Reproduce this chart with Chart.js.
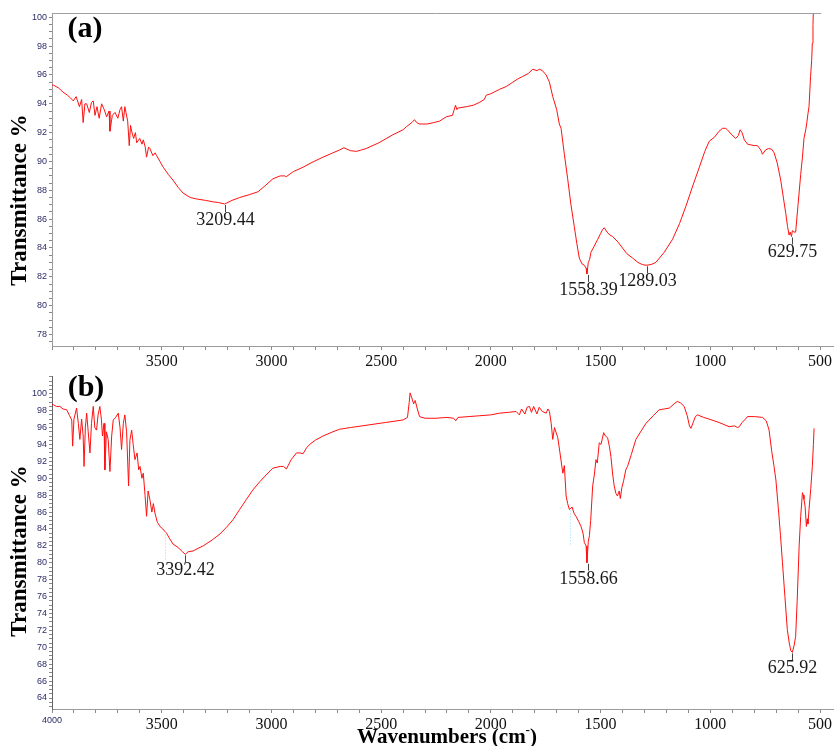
<!DOCTYPE html>
<html>
<head>
<meta charset="utf-8">
<script src="https://cdn.jsdelivr.net/npm/chart.js@4.4.0/dist/chart.umd.min.js"></script>
<style>
  html, body { margin: 0; padding: 0; background: #fff; }
  #wrap { position: relative; width: 834px; height: 746px; overflow: hidden; }
  canvas { position: absolute; left: 0; }
  #chartA { top: 0; }
  #chartB { top: 360px; }
</style>
</head>
<body>
<div id="wrap">
  <canvas id="chartA" width="834" height="380"></canvas>
  <canvas id="chartB" width="834" height="386"></canvas>
</div>
<script>
// spectrum (a)
const wnA = [4000, 3994, 3970, 3949, 3930, 3915, 3903, 3890, 3875, 3865, 3858, 3850, 3842, 3830, 3820, 3812, 3804, 3795, 3785, 3774,
  3762, 3751, 3740, 3736, 3725, 3713, 3700, 3690, 3683, 3675, 3668, 3663, 3655, 3648, 3642, 3637, 3628, 3620, 3614, 3600,
  3590, 3584, 3575, 3569, 3560, 3554, 3540, 3530, 3523, 3508, 3493, 3470, 3448, 3425, 3402, 3370, 3341, 3300, 3266, 3240,
  3213, 3180, 3145, 3100, 3061, 3030, 2993, 2960, 2940, 2932, 2900, 2856, 2820, 2765, 2720, 2689, 2670, 2640, 2613, 2590,
  2568, 2510, 2447, 2400, 2386, 2360, 2348, 2338, 2325, 2290, 2260, 2234, 2203, 2175, 2161, 2155, 2151, 2112, 2080, 2052,
  2030, 2021, 2000, 1961, 1930, 1900, 1880, 1855, 1830, 1809, 1790, 1779, 1765, 1748, 1733, 1718, 1700, 1688, 1680, 1665,
  1650, 1635, 1620, 1608, 1597, 1585, 1574, 1566, 1562, 1556, 1550, 1544, 1530, 1513, 1500, 1490, 1483, 1470, 1458, 1445,
  1420, 1400, 1380, 1354, 1330, 1310, 1293, 1270, 1248, 1210, 1172, 1140, 1111, 1080, 1050, 1025, 1005, 980, 960, 944,
  930, 922, 905, 884, 872, 864, 855, 845, 830, 800, 785, 770, 762, 748, 735, 720, 709, 695, 679, 666,
  656, 648, 641, 636, 630, 626, 618, 611, 600, 588, 580, 573, 565, 560, 555, 550, 543, 538, 535, 532, 529];
const trA = [95.3, 95.3, 95.1, 94.8, 94.6, 94.4, 94.2, 94.5, 93.8, 94.3, 92.7, 94.0, 94.0, 93.4, 94.1, 94.2, 93.2, 93.8, 93.0, 94.0,
  93.6, 93.1, 93.5, 92.1, 93.2, 93.4, 93.0, 93.6, 93.8, 92.8, 93.8, 93.4, 92.8, 91.1, 92.5, 92.1, 91.6, 92.0, 91.3, 91.6,
  91.2, 91.5, 91.0, 90.3, 91.0, 90.9, 90.4, 90.6, 90.4, 90.0, 89.6, 89.1, 88.7, 88.2, 87.8, 87.5, 87.4, 87.3, 87.2, 87.15,
  87.05, 87.3, 87.5, 87.7, 87.9, 88.3, 88.8, 89.0, 89.0, 88.95, 89.3, 89.6, 89.9, 90.3, 90.6, 90.8, 90.95, 90.75, 90.7, 90.8,
  90.9, 91.3, 91.85, 92.2, 92.4, 92.7, 92.9, 92.7, 92.6, 92.6, 92.7, 92.8, 93.1, 93.2, 93.9, 93.6, 93.7, 93.8, 93.9, 94.1,
  94.3, 94.6, 94.7, 95.0, 95.2, 95.5, 95.7, 95.9, 96.1, 96.4, 96.3, 96.4, 96.3, 96.0, 95.5, 94.5, 93.6, 92.6, 92.3, 90.5,
  88.8, 87.0, 85.5, 84.3, 83.3, 82.9, 82.8, 82.6, 82.2, 83.0, 83.2, 83.7, 84.1, 84.6, 85.0, 85.3, 85.4, 85.1, 84.9, 84.8,
  84.4, 84.0, 83.6, 83.3, 83.0, 82.85, 82.8, 82.85, 83.0, 83.7, 84.6, 85.7, 86.9, 88.3, 89.6, 90.7, 91.4, 91.7, 92.1, 92.3,
  92.3, 92.2, 91.9, 91.6, 91.8, 92.2, 92.0, 91.5, 91.2, 91.1, 91.1, 90.8, 90.5, 90.8, 90.9, 90.85, 90.6, 89.9, 88.7, 87.4,
  86.4, 85.5, 84.9, 85.1, 84.8, 85.2, 85.1, 85.1, 87.0, 89.1, 90.3, 91.6, 92.2, 92.7, 93.3, 93.8, 95.9, 97.0, 98.2, 99.5, 101];

// spectrum (b)
const wnB = [4000, 3994, 3980, 3964, 3950, 3933, 3920, 3910, 3906, 3900, 3888, 3880, 3873, 3865, 3858, 3854, 3848, 3842, 3835, 3827,
  3820, 3812, 3805, 3797, 3790, 3782, 3775, 3770, 3763, 3759, 3752, 3744, 3736, 3728, 3721, 3710, 3698, 3690, 3683, 3675,
  3668, 3660, 3651, 3645, 3637, 3630, 3622, 3612, 3605, 3599, 3590, 3584, 3576, 3569, 3562, 3554, 3545, 3538, 3531, 3520,
  3508, 3495, 3478, 3465, 3448, 3430, 3417, 3405, 3392, 3380, 3357, 3335, 3311, 3270, 3235, 3205, 3175, 3145, 3114, 3085,
  3053, 3020, 2993, 2960, 2945, 2932, 2910, 2886, 2870, 2856, 2840, 2826, 2800, 2765, 2720, 2689, 2640, 2560, 2480, 2400,
  2380, 2372, 2368, 2360, 2352, 2345, 2335, 2325, 2300, 2250, 2200, 2170, 2160, 2150, 2100, 2050, 2000, 1961, 1920, 1885,
  1870, 1860, 1845, 1835, 1824, 1815, 1805, 1790, 1780, 1765, 1748, 1740, 1733, 1725, 1718, 1710, 1695, 1685, 1672, 1665,
  1657, 1650, 1642, 1630, 1620, 1612, 1600, 1589, 1580, 1574, 1566, 1562, 1556, 1551, 1545, 1536, 1528, 1521, 1515, 1506,
  1498, 1486, 1478, 1468, 1460, 1453, 1445, 1438, 1430, 1423, 1415, 1410, 1403, 1395, 1385, 1377, 1360, 1339, 1315, 1293,
  1260, 1233, 1210, 1187, 1165, 1150, 1135, 1119, 1105, 1095, 1088, 1078, 1068, 1058, 1030, 1005, 960, 914, 890, 875,
  868, 855, 840, 830, 800, 762, 745, 732, 720, 710, 701, 690, 680, 671, 660, 649, 640, 633, 626, 618,
  611, 604, 595, 588, 580, 576, 573, 568, 562, 558, 555, 550, 542, 535, 530, 527];
const trB = [98.7, 98.7, 98.5, 98.5, 98.2, 98.1, 97.4, 96.9, 93.8, 97.0, 98.3, 96.5, 94.6, 97.0, 95.0, 91.4, 96.0, 97.7, 95.5, 93.0,
  96.5, 98.5, 96.0, 95.7, 97.5, 98.5, 97.0, 95.0, 96.5, 91.0, 95.5, 94.6, 90.8, 95.0, 96.9, 97.2, 97.7, 96.0, 93.4, 96.5,
  97.5, 95.5, 89.1, 94.5, 95.7, 94.0, 92.2, 93.0, 91.0, 91.4, 90.0, 90.6, 88.0, 85.5, 88.5, 87.5, 86.0, 87.0, 85.9, 84.8,
  84.3, 84.0, 83.5, 82.9, 82.2, 81.9, 81.6, 81.3, 81.0, 81.3, 81.4, 81.7, 82.0, 82.7, 83.4, 84.2, 85.1, 86.3, 87.5, 88.6,
  89.6, 90.5, 91.2, 91.4, 91.4, 91.1, 92.2, 93.0, 93.0, 92.9, 93.6, 94.0, 94.5, 95.0, 95.5, 95.8, 96.0, 96.3, 96.6, 96.9,
  97.2, 99.0, 100.1, 99.5, 98.8, 99.2, 98.2, 97.3, 97.1, 97.1, 97.2, 97.1, 96.8, 97.2, 97.3, 97.4, 97.5, 97.7, 97.8, 97.9,
  97.5, 98.2, 97.6, 98.4, 98.5, 97.8, 98.5, 97.6, 98.4, 97.9, 97.7, 98.2, 97.9, 96.5, 94.6, 96.0, 94.8, 93.0, 90.6, 91.5,
  87.9, 87.0, 86.3, 86.6, 85.8, 85.5, 84.9, 84.3, 83.5, 82.4, 82.0, 80.0, 82.5, 83.2, 85.0, 89.1, 90.5, 92.2, 91.8, 94.2,
  94.0, 95.4, 95.0, 94.8, 93.8, 92.6, 90.5, 89.1, 88.2, 87.9, 88.5, 87.6, 88.9, 89.7, 91.0, 91.4, 92.8, 94.6, 95.6, 96.5,
  97.4, 98.1, 98.2, 98.3, 98.8, 99.1, 98.9, 98.5, 97.4, 96.2, 95.9, 96.6, 97.3, 97.5, 97.2, 97.0, 96.6, 96.1, 96.2, 96.0,
  96.1, 96.6, 97.0, 97.3, 97.3, 97.2, 96.8, 95.7, 93.2, 91.5, 89.8, 86.5, 83.2, 80.0, 76.0, 72.1, 70.5, 69.6, 69.4, 70.2,
  71.3, 75.5, 82.0, 85.5, 88.3, 88.0, 87.5, 86.7, 84.3, 85.2, 84.6, 86.3, 88.8, 91.4, 94.0, 95.9];

// labelled peaks
const peakWnA = [3209.44, 1558.39, 1289.03, 629.75];
const peakTrA = [87.05, 82.2, 82.8, 84.8];
const peakWnB = [3392.42, 1558.66, 625.92];
const peakTrB = [81.0, 80.0, 69.4];

// faint dotted guide lines in (b): wavenumber, from, to
const guideWnB = [3486, 1638];
const guideTopB = [83.7, 86.2];
const guideBotB = [80.3, 82.0];

const xTickLabels = [3500, 3000, 2500, 2000, 1500, 1000, 500];

const decor = {
  id: 'decor',
  afterDatasetsDraw(chart, args, o) {
    const ctx = chart.ctx;
    const xs = chart.scales.x, ys = chart.scales.y;
    const area = chart.chartArea;
    ctx.save();

    if (o.frameTop) {
      ctx.strokeStyle = '#a0a0a0';
      ctx.lineWidth = 1;
      ctx.beginPath();
      ctx.moveTo(area.left, area.top + 0.5);
      ctx.lineTo(area.right - 12, area.top + 0.5);
      ctx.stroke();
    }

    // dotted guides
    (o.guideWn || []).forEach((w, i) => {
      const x = Math.round(xs.getPixelForValue(w)) + 0.5;
      ctx.strokeStyle = '#8fd8f0';
      ctx.setLineDash([1, 2]);
      ctx.beginPath();
      ctx.moveTo(x, ys.getPixelForValue(o.guideTop[i]));
      ctx.lineTo(x, ys.getPixelForValue(o.guideBot[i]));
      ctx.stroke();
    });
    ctx.setLineDash([]);

    // peak ticks and labels
    ctx.font = '18px "Liberation Serif"';
    ctx.textAlign = 'center';
    ctx.textBaseline = 'middle';
    o.peakWn.forEach((w, i) => {
      const x = Math.round(xs.getPixelForValue(w)) + 0.5;
      const y = ys.getPixelForValue(o.peakTr[i]);
      ctx.strokeStyle = '#444';
      ctx.lineWidth = 1;
      ctx.beginPath();
      ctx.moveTo(x, y + 1);
      ctx.lineTo(x, y + 8);
      ctx.stroke();
      ctx.fillStyle = '#1a1a1a';
      ctx.fillText(w.toFixed(2), x, y + 16);
    });

    // panel letter
    ctx.font = 'bold 30px "Liberation Serif"';
    ctx.fillStyle = '#000';
    ctx.textAlign = 'center';
    ctx.fillText(o.panel, o.panelX, o.panelY);

    // y axis title
    ctx.save();
    ctx.translate(20, o.yTitleY);
    ctx.rotate(-Math.PI / 2);
    ctx.font = 'bold 23px "Liberation Serif"';
    ctx.textAlign = 'center';
    ctx.textBaseline = 'middle';
    ctx.fillText('Transmittance %', 0, 0);
    ctx.restore();

    // x axis title
    if (o.xTitle) {
      ctx.font = 'bold 21px "Liberation Serif"';
      ctx.textAlign = 'left';
      ctx.textBaseline = 'alphabetic';
      const main = 'Wavenumbers (cm';
      const w1 = ctx.measureText(main).width;
      ctx.font = 'bold 13px "Liberation Serif"';
      const w2 = ctx.measureText('-').width;
      ctx.font = 'bold 21px "Liberation Serif"';
      const w3 = ctx.measureText(')').width;
      const x0 = o.xTitleX - (w1 + w2 + w3) / 2;
      const yb = o.xTitleY;
      ctx.fillText(main, x0, yb);
      ctx.font = 'bold 13px "Liberation Serif"';
      ctx.fillText('-', x0 + w1, yb - 9);
      ctx.font = 'bold 21px "Liberation Serif"';
      ctx.fillText(')', x0 + w1 + w2, yb);
    }
    ctx.restore();
  }
};

function isEven(v) {
  return Math.abs(v - Math.round(v / 2) * 2) < 1e-6;
}

function makeChart(id, wn, tr, cfg) {
  const points = wn.map((w, i) => ({ x: w, y: tr[i] }));
  return new Chart(document.getElementById(id), {
    type: 'line',
    data: {
      datasets: [{
        data: points,
        borderColor: '#ff1010',
        borderWidth: 1,
        pointRadius: 0,
        tension: 0,
        fill: false
      }]
    },
    options: {
      responsive: false,
      animation: false,
      layout: { padding: { top: cfg.top, left: 0, right: 0, bottom: 0 } },
      plugins: {
        legend: { display: false },
        tooltip: { enabled: false },
        decor: cfg.decor
      },
      scales: {
        x: {
          type: 'linear',
          reverse: true,
          min: 440,
          max: 4000,
          afterFit: s => { s.height = cfg.xHeight; },
          border: { color: '#9a9a9a', width: 1 },
          grid: { drawOnChartArea: false, drawTicks: true, tickLength: 4, color: '#8a8a8a' },
          ticks: {
            stepSize: 100,
            includeBounds: false,
            autoSkip: false,
            maxRotation: 0,
            padding: 2,
            color: c => c.tick && c.tick.value === 4000 ? '#2b2b66' : '#111',
            font: c => c.tick && c.tick.value === 4000
              ? { family: 'Liberation Sans', size: 9 }
              : { family: 'Liberation Serif', size: 16 },
            callback: v => {
              if (v === 4000) return cfg.show4000 ? '4000' : '';
              return xTickLabels.includes(v) ? String(v) : '';
            }
          }
        },
        y: {
          min: cfg.yMin,
          max: cfg.yMax,
          afterFit: s => { s.width = 52; },
          border: { color: cfg.yAxisColor, width: 1 },
          grid: { drawOnChartArea: false, drawTicks: true, tickLength: 3, color: '#888' },
          ticks: {
            stepSize: 0.5,
            includeBounds: false,
            autoSkip: false,
            padding: 2,
            color: '#2b2b66',
            font: { family: 'Liberation Sans', size: 9 },
            callback: v => isEven(v) && v <= 100.01 ? String(Math.round(v)) : ''
          }
        }
      }
    },
    plugins: [decor]
  });
}

makeChart('chartA', wnA, trA, {
  top: 13, xHeight: 34, yMin: 77.2, yMax: 100.3, show4000: false, yAxisColor: '#9a9a9a',
  decor: { panel: '(a)', panelX: 85, panelY: 29, frameTop: true, peakWn: peakWnA, peakTr: peakTrA, yTitleY: 200 }
});

makeChart('chartB', wnB, trB, {
  top: 16, xHeight: 37, yMin: 62.7, yMax: 102.1, show4000: true, yAxisColor: '#666',
  decor: {
    panel: '(b)', panelX: 86, panelY: 28, peakWn: peakWnB, peakTr: peakTrB,
    guideWn: guideWnB, guideTop: guideTopB, guideBot: guideBotB, yTitleY: 191,
    xTitle: true, xTitleX: 447, xTitleY: 383
  }
});
</script>
</body>
</html>
